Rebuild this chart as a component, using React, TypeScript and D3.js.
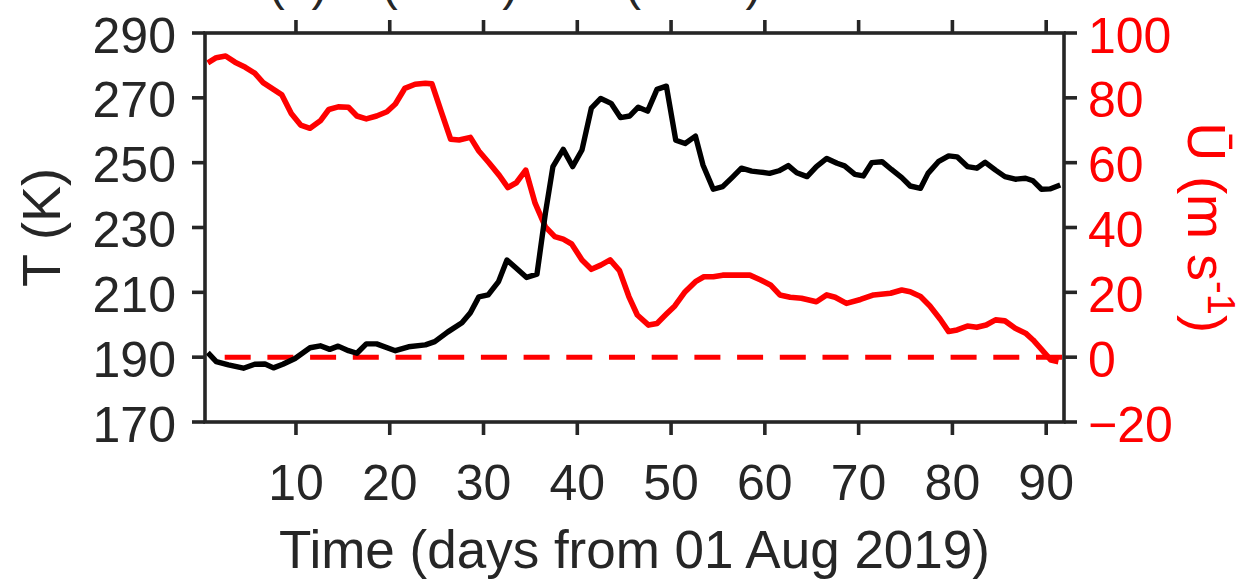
import React from "react";
import * as d3 from "d3";

const tDays = [0.6,1.5,2.8,4.4,5.6,6.7,7.6,8.6,9.9,11.5,12.6,13.6,14.5,15.6,16.5,17.5,18.6,20.6,22.0,23.8,24.8,26.2,27.7,28.6,29.5,30.5,31.6,32.5,33.5,34.6,35.7,36.6,37.4,38.5,39.5,40.5,41.5,42.5,43.6,44.6,45.6,46.5,47.5,48.5,49.5,50.5,51.5,52.6,53.4,54.5,55.5,56.5,57.5,58.6,59.5,60.5,61.5,62.5,63.4,64.5,65.5,66.6,67.7,68.5,69.6,70.5,71.4,72.5,73.5,74.6,75.5,76.6,77.4,78.5,79.6,80.5,81.6,82.6,83.5,84.6,85.6,86.7,87.8,88.6,89.5,90.4,91.5];
const tValues = [191.4,188.6,187.6,186.6,187.8,187.9,186.7,187.8,189.6,192.9,193.5,192.4,193.4,192.0,191.2,194.1,194.1,192.0,193.2,193.8,194.8,197.8,200.6,203.7,208.6,209.2,213.3,220.0,217.4,214.6,215.6,234.4,248.8,254.1,248.8,253.9,266.8,269.8,268.3,263.9,264.4,267.1,265.9,272.6,273.6,256.9,255.9,258.2,249.3,241.8,242.6,245.4,248.3,247.4,247.1,246.7,247.5,249.1,246.9,245.7,248.8,251.3,249.8,249.0,246.4,245.9,250.0,250.3,247.9,245.4,242.8,242.1,246.7,250.3,252.1,251.8,248.8,248.3,250.1,247.7,245.7,244.9,245.2,244.4,241.8,241.9,243.1];

const uDays = [0.6,1.5,2.5,3.5,4.6,5.6,6.5,7.6,8.5,9.5,10.5,11.5,12.6,13.5,14.5,15.6,16.5,17.5,18.6,19.7,20.6,21.6,22.7,23.8,24.5,25.5,26.5,27.4,28.6,29.5,30.6,31.7,32.6,33.5,34.5,35.5,36.6,37.6,38.5,39.4,40.5,41.5,42.5,43.5,44.5,45.5,46.4,47.6,48.5,49.5,50.4,51.5,52.6,53.5,54.5,55.5,56.6,58.4,59.5,60.6,61.6,62.7,63.9,65.5,66.6,67.5,68.7,70.2,71.6,73.4,74.6,75.5,76.6,77.6,78.7,79.6,80.5,81.6,82.6,83.6,84.6,85.6,86.7,87.8,88.6,89.5,90.5,91.3];
const uValues = [90.8,92.4,92.9,91.0,89.4,87.6,84.7,82.6,80.9,75.2,71.6,70.6,72.9,76.4,77.2,77.1,74.4,73.5,74.4,75.7,78.1,82.9,84.2,84.5,84.3,75.7,67.2,67.0,67.8,63.6,59.9,56.0,52.3,53.8,57.7,47.5,40.2,37.2,36.4,34.9,30.0,27.1,28.4,30.0,26.7,18.7,13.0,9.9,10.4,13.3,15.8,20.2,23.3,24.8,24.8,25.3,25.3,25.3,23.9,22.3,19.2,18.5,18.2,17.1,19.2,18.5,16.6,17.8,19.2,19.7,20.7,20.2,18.7,15.8,11.7,7.9,8.4,9.6,9.2,9.9,11.5,11.2,8.9,7.4,5.3,2.4,-0.9,-1.4];

const xTicks = [10,20,30,40,50,60,70,80,90];
const tTicks = [170,190,210,230,250,270,290];
const uTicks = [-20,0,20,40,60,80,100];
const xDomain = [0.3, 91.9];
const tDomain = [170, 290];
const uDomain = [-20, 100];
const zeroLine = { from: 2.4, to: 91.9, value: 0 };
const titleText = "(a) T (90°S) & Ū (60°S) at 10 hPa";
const xLabel = "Time (days from 01 Aug 2019)";
const tLabel = "T (K)";

const W = 1246, H = 582;
const m = { left: 205, right: 1064, top: 33, bottom: 422 };
const AX = "#262626";
const FONT = "'Liberation Sans', Arial, Helvetica, sans-serif";

export default function App() {
  const x = d3.scaleLinear().domain(xDomain).range([m.left, m.right]);
  const yT = d3.scaleLinear().domain(tDomain).range([m.bottom, m.top]);
  const yU = d3.scaleLinear().domain(uDomain).range([m.bottom, m.top]);
  const tLine = d3.line<number>().x((d, i) => x(tDays[i])).y((d) => yT(d));
  const uLine = d3.line<number>().x((d, i) => x(uDays[i])).y((d) => yU(d));
  const tl = 13;
  const sw = 3.6;
  const cx = (m.left + m.right) / 2;
  const cy = (m.top + m.bottom) / 2;
  const fmt = (v: number) => (v < 0 ? "\u2212" + Math.abs(v) : String(v));
  return (
    <svg width={W} height={H} style={{ position: "absolute", left: 0, top: 0, background: "#fff" }} fontFamily={FONT}>
      <rect x={0} y={0} width={W} height={H} fill="#fff" />
      <text x={cx - 10} y={0} textAnchor="middle" fontSize={48} fill={AX}>{titleText}</text>
      <line x1={x(zeroLine.from)} x2={x(zeroLine.to)} y1={yU(zeroLine.value)} y2={yU(zeroLine.value)} stroke="#ff0000" strokeWidth={5} strokeDasharray="26,16.7" />
      <path d={uLine(uValues) || ""} fill="none" stroke="#ff0000" strokeWidth={5.6} strokeLinejoin="round" />
      <path d={tLine(tValues) || ""} fill="none" stroke="#000" strokeWidth={5.4} strokeLinejoin="round" />
      <rect x={m.left} y={m.top} width={m.right - m.left} height={m.bottom - m.top} fill="none" stroke={AX} strokeWidth={sw} />
      {xTicks.map((t) => (
        <g key={"x" + t}>
          <line x1={x(t)} x2={x(t)} y1={m.bottom} y2={m.bottom + tl} stroke={AX} strokeWidth={sw} />
          <line x1={x(t)} x2={x(t)} y1={m.top} y2={m.top - tl} stroke={AX} strokeWidth={sw} />
          <text x={x(t)} y={500} textAnchor="middle" fontSize={50} fill={AX}>{t}</text>
        </g>
      ))}
      {tTicks.map((t) => (
        <g key={"t" + t}>
          <line x1={m.left - tl} x2={m.left} y1={yT(t)} y2={yT(t)} stroke={AX} strokeWidth={sw} />
          <text x={176} y={yT(t)} dy="0.39em" textAnchor="end" fontSize={50} fill={AX}>{t}</text>
        </g>
      ))}
      {uTicks.map((t) => (
        <g key={"u" + t}>
          <line x1={m.right} x2={m.right + tl} y1={yU(t)} y2={yU(t)} stroke={AX} strokeWidth={sw} />
          <text x={1088} y={yU(t)} dy="0.39em" textAnchor="start" fontSize={50} fill="#ff0000">{fmt(t)}</text>
        </g>
      ))}
      <text x={cx} y={568} textAnchor="middle" fontSize={53} fill={AX}>{xLabel}</text>
      <text transform={`translate(60,${cy}) rotate(-90)`} textAnchor="middle" fontSize={54} fill={AX}>{tLabel}</text>
      <text transform={`translate(1188,${cy}) rotate(90)`} textAnchor="middle" fontSize={54} fill="#ff0000">
        Ū (m s<tspan dy={-20} fontSize={38}>-1</tspan><tspan dy={20}>)</tspan>
      </text>
    </svg>
  );
}
